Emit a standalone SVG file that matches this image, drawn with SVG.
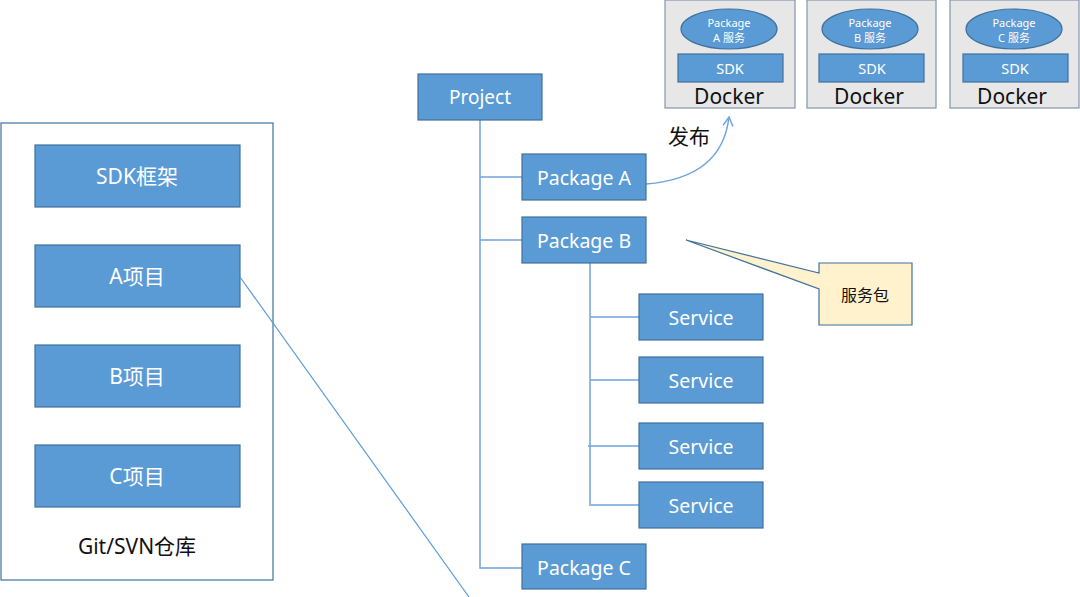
<svg xmlns="http://www.w3.org/2000/svg" width="1080" height="597" viewBox="0 0 1080 597">
<defs>
<style>
.n{fill:#5b9bd5;stroke:#41719c;stroke-width:1.2}
.t{font-family:"Noto Sans","Noto Sans CJK SC",sans-serif;fill:#fff;text-anchor:middle;dominant-baseline:central}
.k{font-family:"Noto Sans","Noto Sans CJK SC",sans-serif;fill:#111;text-anchor:middle;dominant-baseline:central}
.c{fill:none;stroke:#6fa3dc;stroke-width:1.5}
.d{fill:#e7e7e7;stroke:#8496b0;stroke-width:1.2}
</style>
<marker id="ah" viewBox="0 0 12 12" refX="10" refY="6" markerWidth="12" markerHeight="12" markerUnits="userSpaceOnUse" orient="auto">
<path d="M1,1 L10,6 L1,11" fill="none" stroke="#6fa3dc" stroke-width="1.5"/>
</marker>
</defs>
<rect width="1080" height="597" fill="#fff"/>

<g id="repo">
<rect x="1" y="123" width="272" height="457" fill="#fff" stroke="#41719c" stroke-width="1.2"/>
<text class="k" x="137" y="546" font-size="21">Git/SVN仓库</text>
</g>
<g id="sdk-frame"><rect class="n" x="35" y="145" width="205" height="62"/><text class="t" x="137" y="176" font-size="21">SDK框架</text></g>
<g id="proj-a"><rect class="n" x="35" y="245" width="205" height="62"/><text class="t" x="137" y="276" font-size="21">A项目</text></g>
<g id="proj-b"><rect class="n" x="35" y="345" width="205" height="62"/><text class="t" x="137" y="376" font-size="21">B项目</text></g>
<g id="proj-c"><rect class="n" x="35" y="445" width="205" height="62"/><text class="t" x="137" y="476" font-size="21">C项目</text></g>

<g id="connectors">
<path class="c" d="M480,120 V568 H522"/>
<path class="c" d="M480,177 H522"/>
<path class="c" d="M480,240 H522"/>
<path class="c" d="M590,263 V504"/>
<path class="c" d="M590,317 H639"/>
<path class="c" d="M590,380 H639"/>
<path class="c" d="M588,446 H639"/>
<path class="c" d="M589,505 H639"/>
<path d="M240,277 L469,597" fill="none" stroke="#5b9bd5" stroke-width="1.2"/>
<path class="c" d="M646,184 Q722,178 729,117" marker-end="url(#ah)"/>
</g>
<text class="k" x="689" y="136" font-size="21">发布</text>

<g id="project"><rect class="n" x="418" y="74" width="124" height="46"/><text class="t" x="480" y="97" font-size="19">Project</text></g>
<g id="package-a"><rect class="n" x="522" y="154" width="124" height="46"/><text class="t" x="584" y="177" font-size="19.5">Package A</text></g>
<g id="package-b"><rect class="n" x="522" y="217" width="124" height="46"/><text class="t" x="584" y="240" font-size="19.5">Package B</text></g>
<g id="package-c"><rect class="n" x="522" y="544" width="124" height="45"/><text class="t" x="584" y="567" font-size="19.5">Package C</text></g>
<g id="service-1"><rect class="n" x="639" y="294" width="124" height="46"/><text class="t" x="701" y="317" font-size="19.5">Service</text></g>
<g id="service-2"><rect class="n" x="639" y="357" width="124" height="46"/><text class="t" x="701" y="380" font-size="19.5">Service</text></g>
<g id="service-3"><rect class="n" x="639" y="423" width="124" height="46"/><text class="t" x="701" y="446" font-size="19.5">Service</text></g>
<g id="service-4"><rect class="n" x="639" y="482" width="124" height="46"/><text class="t" x="701" y="505" font-size="19.5">Service</text></g>

<g id="callout">
<path d="M819,263 H912 V325 H819 V289 L686,240 L819,273 Z" fill="#fff2cc" stroke="#41719c" stroke-width="1.2"/>
<text class="k" x="865" y="295" font-size="16">服务包</text>
</g>

<g id="docker-a">
<rect class="d" x="665" y="0" width="130" height="108"/>
<ellipse class="n" cx="729" cy="29" rx="48" ry="20"/>
<text class="t" x="729" y="22" font-size="11">Package</text>
<text class="t" x="729" y="37" font-size="11">A 服务</text>
<rect class="n" x="678" y="54" width="105" height="28"/>
<text class="t" x="730" y="68" font-size="14.5">SDK</text>
<text class="k" x="729" y="96" font-size="21">Docker</text>
</g>
<g id="docker-b">
<rect class="d" x="807" y="0" width="129" height="108"/>
<ellipse class="n" cx="870" cy="29" rx="48" ry="20"/>
<text class="t" x="870" y="22" font-size="11">Package</text>
<text class="t" x="870" y="37" font-size="11">B 服务</text>
<rect class="n" x="819" y="54" width="105" height="28"/>
<text class="t" x="872" y="68" font-size="14.5">SDK</text>
<text class="k" x="869" y="96" font-size="21">Docker</text>
</g>
<g id="docker-c">
<rect class="d" x="950" y="0" width="129" height="108"/>
<ellipse class="n" cx="1014" cy="29" rx="48" ry="20"/>
<text class="t" x="1014" y="22" font-size="11">Package</text>
<text class="t" x="1014" y="37" font-size="11">C 服务</text>
<rect class="n" x="963" y="54" width="105" height="28"/>
<text class="t" x="1015" y="68" font-size="14.5">SDK</text>
<text class="k" x="1012" y="96" font-size="21">Docker</text>
</g>
</svg>
